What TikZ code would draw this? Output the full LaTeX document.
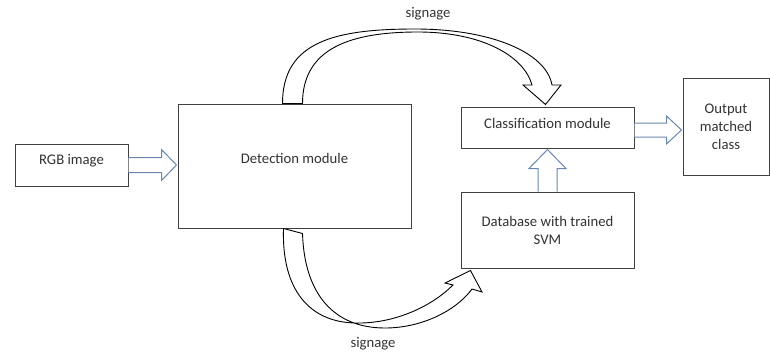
\documentclass[tikz,border=0pt]{standalone}
\usepackage{fontspec}
\setmainfont{Carlito}
\usetikzlibrary{calc}
\definecolor{boxline}{HTML}{404040}
\definecolor{txt}{HTML}{333333}
\definecolor{flowblue}{HTML}{6A87B0}
\tikzset{
  modbox/.style={draw=boxline, line width=1pt, fill=white, inner sep=0pt, text=txt,
    font=\fontsize{14.7}{18}\selectfont, align=center},
  lbl/.style={text=txt, font=\fontsize{14.7}{18}\selectfont, inner sep=0pt, align=center},
  blockarrow/.style={draw=flowblue, line width=1pt, fill=white, line join=miter},
  bendarrow/.style={draw=black, line width=0.9pt, fill=white, line join=miter}
}
\begin{document}
\begin{tikzpicture}[x=1pt, y=-1pt]
\useasboundingbox (0,0) rectangle (770,356);

% module boxes
\node[modbox, minimum width=113pt, minimum height=42pt] (rgb) at (71.5,165) {};
\node[lbl] at (71.5,161) {RGB image};
\node[modbox, minimum width=233pt, minimum height=124pt] (det) at (294.5,166) {};
\node[lbl] at (294.5,158) {Detection module};
\node[modbox, minimum width=173pt, minimum height=41pt] (cls) at (547.5,127.5) {};
\node[lbl] at (547.5,123) {Classification module};
\node[modbox, minimum width=173pt, minimum height=76pt] (db) at (547.5,230) {};
\node[lbl] at (547.5,230) {Database with trained\\SVM};
\node[modbox, minimum width=86pt, minimum height=97pt] (out) at (726,126.5) {};
\node[lbl] at (726,126.5) {Output\\matched\\class};

% block arrow: RGB image -> detection (let-coordinates are canvas units, y up)
\draw[blockarrow] let \p1=(rgb.east), \p2=(det.west) in
  (\x1,\y1+7.5) -- (\x2-16,\y1+7.5) -- (\x2-16,\y1+15.5) -- (\x2-1,\y1)
  -- (\x2-16,\y1-15.5) -- (\x2-16,\y1-7.5) -- (\x1,\y1-7.5);

% block arrow: classification -> output
\draw[blockarrow] let \p1=(cls.east), \p2=(out.west) in
  (\x1,\y1-9.5) -- (\x2-16,\y1-9.5) -- (\x2-16,\y1-16.5) -- (\x2-1,\y1-2.5)
  -- (\x2-16,\y1+11.5) -- (\x2-16,\y1+4.5) -- (\x1,\y1+4.5);

% block arrow: database -> classification
\draw[blockarrow] let \p1=(db.north), \p2=(cls.south) in
  (\x1-9.5,\y1) -- (\x1-9.5,\y2-20) -- (\x1-18.5,\y2-20) -- (\x1,\y2-1)
  -- (\x1+18.5,\y2-20) -- (\x1+9.5,\y2-20) -- (\x1+9.5,\y1);

% curved arrow over the top: detection -> classification
\coordinate (topA) at ($(det.north west)+(105,0)$);
\coordinate (topB) at ($(det.north west)+(125,0)$);
\coordinate (topTip) at ($(cls.north west)+(85,-2)$);
\draw[bendarrow] (topA)
  .. controls ($(topA)+(0,-62)$) and (335,29) .. (415,29)
  .. controls (490,29) and (546,52) .. (552,85)
  -- (561,85) -- (topTip) -- (523,85) -- (532,85)
  .. controls (524,56) and (482,32) .. (418,32)
  .. controls (350,32) and ($(topB)+(0,-55)$) .. (topB) -- cycle;
\node[lbl] at (428,14) {signage};

% curved arrow under the bottom: detection -> database
\coordinate (botA) at ($(det.south west)+(106,0)$);
\coordinate (botB) at ($(det.south west)+(125,5)$);
\coordinate (botTip) at ($(db.south west)+(10,2)$);
\draw[bendarrow] (botA)
  .. controls ($(botA)+(-2,62)$) and (310,322) .. (355,323)
  .. controls (395,324) and (432,306) .. (453,285)
  -- (445,283) -- (botTip) -- (482,292) -- (472,289)
  .. controls (455,312) and (420,328) .. (385,328)
  .. controls (335,328) and ($(botB)+(2,62)$) .. (botB) -- cycle;
\node[lbl] at (373,344) {signage};
\end{tikzpicture}
\end{document}
